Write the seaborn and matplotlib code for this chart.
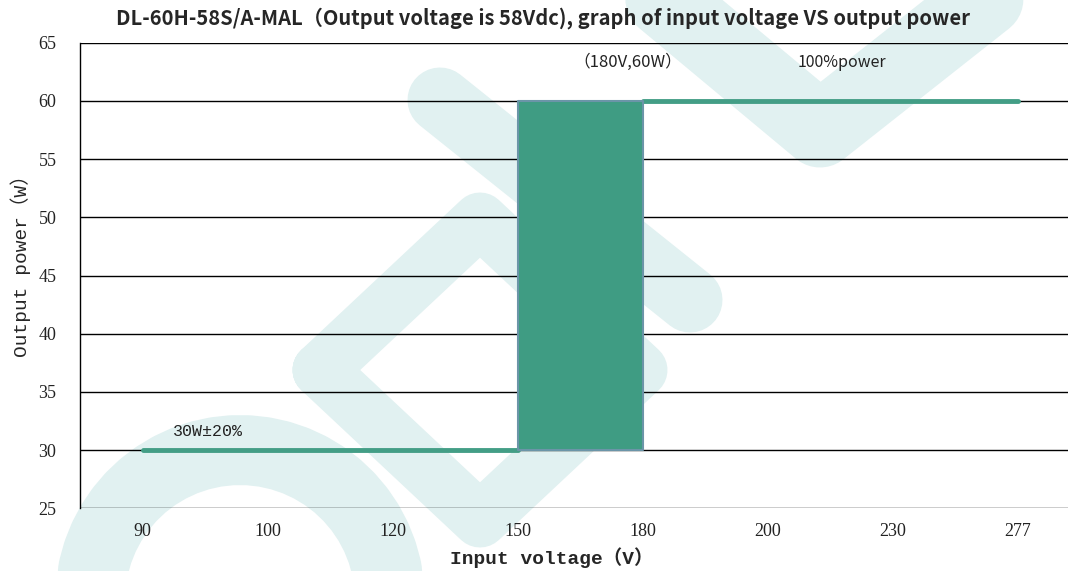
import numpy as np
import pandas as pd
import seaborn as sns
import matplotlib.pyplot as plt
from matplotlib.lines import Line2D

# data
voltages = ['90', '100', '120', '150', '180', '200', '230', '277']
low_voltages = ['90', '100', '120', '150']
low_power = [30, 30, 30, 30]
high_voltages = ['180', '200', '230', '277']
high_power = [60, 60, 60, 60]
step_voltages = ['150', '180']
step_low = 30
step_high = 60
y_ticks = [25, 30, 35, 40, 45, 50, 55, 60, 65]

green = '#439e86'

def main():
    sns.set_style('white')
    fig = plt.figure(figsize=(10.68, 5.71), dpi=100)
    ax = fig.add_axes([0.075, 0.11, 0.925, 0.815])
    ax.set_facecolor('none')

    pos = {v: i for i, v in enumerate(voltages)}
    df_low = pd.DataFrame({'x': [pos[v] for v in low_voltages], 'y': low_power})
    df_high = pd.DataFrame({'x': [pos[v] for v in high_voltages], 'y': high_power})

    # horizontal grid
    for t in y_ticks:
        ax.axhline(t, color='black', lw=1.0, zorder=1)

    sns.lineplot(data=df_low, x='x', y='y', color=green, lw=3.5, ax=ax, zorder=3)
    sns.lineplot(data=df_high, x='x', y='y', color=green, lw=3.5, ax=ax, zorder=3)
    xs = [pos[v] for v in step_voltages]
    ax.fill_between(xs, step_low, step_high, facecolor='#3f9c83', edgecolor='#6b95a8', lw=1.5, zorder=4)

    ax.set_xlim(-0.5, 7.4)
    ax.set_ylim(25, 65)
    ax.set_xticks(range(len(voltages)))
    ax.set_xticklabels(voltages)
    ax.set_yticks(y_ticks)
    ax.tick_params(length=0, labelsize=13, pad=11, colors='#222222')
    for lab in ax.get_xticklabels() + ax.get_yticklabels():
        lab.set_family('Liberation Serif')
    ax.tick_params(axis='y', pad=17)
    for s in ['top', 'right', 'bottom']:
        ax.spines[s].set_visible(False)
    ax.spines['left'].set_color('black')
    ax.spines['left'].set_linewidth(1.0)

    ax.set_xlabel('Input voltage（V）', family=['Liberation Mono', 'Noto Sans CJK SC'],
                  fontsize=14, fontweight='bold')
    ax.xaxis.set_label_coords(0.477, -0.085)
    ax.set_ylabel('Output power（W）', family=['Liberation Mono', 'Noto Sans CJK SC'],
                  fontsize=14)
    ax.yaxis.set_label_coords(-0.05, 0.53)

    ax.text(3.88, 63.3, '（180V,60W）', family=['Noto Sans CJK SC'], fontsize=12,
            ha='center', va='center', color='#222222')
    ax.text(5.59, 63.3, '100%power', family=['Noto Sans CJK SC'], fontsize=11.5,
            ha='center', va='center', color='#222222')
    ax.text(0.24, 31.6, '30W±20%', family=['Liberation Mono'], fontsize=12,
            ha='left', va='center', color='#222222')

    fig.text(0.508, 0.968, 'DL-60H-58S/A-MAL（Output voltage is 58Vdc), graph of input voltage VS output power',
             family=['Noto Sans CJK SC'], fontsize=14.5, fontweight='bold', ha='center', va='center')

    # faint watermark behind the plot
    W, H = 1068.0, 571.0
    def stroke(px, py, width):
        px = np.asarray(px, float)
        py = np.asarray(py, float)
        fig.add_artist(Line2D(px / W, 1 - py / H, transform=fig.transFigure, color='#e1f1f1',
                              lw=width * 0.72, solid_capstyle='round',
                              solid_joinstyle='round', zorder=-1))
    stroke([640, 820, 1010], [-20, 130, -20], 75)
    stroke([440, 690], [100, 300], 65)
    stroke([320, 480, 640, 480, 320], [370, 220, 370, 520, 370], 55)
    th = np.linspace(np.pi, 0, 30)
    stroke(240 + 150 * np.cos(th), 600 - 150 * np.sin(th), 70)

    fig.savefig('out.png', dpi=100)

if __name__ == '__main__':
    main()
